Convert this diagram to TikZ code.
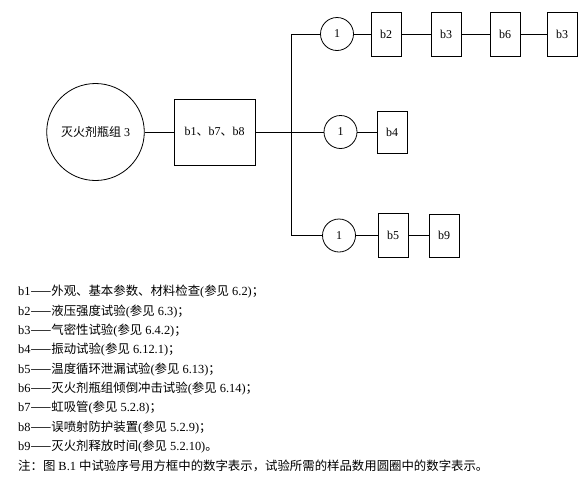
\documentclass[tikz,border=0pt]{standalone}
\usepackage{fontspec}
\setmainfont{Liberation Serif}
\newfontfamily\zhfont{Noto Sans CJK SC}
\newcommand{\zh}[1]{{\zhfont #1}}
\usetikzlibrary{positioning, shapes.geometric}

\begin{document}
\begin{tikzpicture}[x=1pt,y=-1pt,on grid,node distance=59pt,
		font=\fontsize{12}{14}\selectfont,
		testbox/.style={draw,line width=0.9pt,minimum width=30pt,minimum height=44pt,inner sep=0pt},
		sample/.style={circle,draw,line width=0.8pt,minimum size=33pt,inner sep=0pt},
		link/.style={line width=0.6pt},
		legend/.style={anchor=west,inner sep=0pt,font=\fontsize{12.4}{14}\selectfont}]
		
		\useasboundingbox (0,0) rectangle (583,477);
		
		\node (group) [ellipse,draw,line width=0.8pt,minimum width=93pt,minimum height=97pt,inner sep=0pt] at (95.5,132) {\zh{灭火剂瓶组} 3};
		\node (common) [draw,line width=0.9pt,minimum width=81pt,minimum height=66pt] at (214.5,132) {b1\zh{、}b7\zh{、}b8};
		
		% three branches
		\coordinate (trunkTop) at (291,34);
		\coordinate (trunkBot) at (291,235.5);
		\node (s1) [sample] at (337,34) {1};
		\node (s2) [sample] at (340.5,132) {1};
		\node (s3) [sample] at (339,235.5) {1};
		
		\node (t2) [testbox, right=49pt of s1] {b2};
		\node (t3) [testbox, right=60pt of t2] {b3};
		\node (t6) [testbox, right=59pt of t3] {b6};
		\node (t3b) [testbox, right=57pt of t6] {b3};
		\node (t4) [testbox, minimum height=42pt, right=51.5pt of s2] {b4};
		\node (t5) [testbox, right=54pt of s3] {b5};
		\node (t9) [testbox, minimum height=43pt, right=51pt of t5] {b9};
		
		\draw [link] (group) -- (common);
		\draw [link] (common) -- (s2);
		\draw [link] (s1) -- (trunkTop) -- (trunkBot) -- (s3);
		\draw [link] (s1) -- (t2) -- (t3) -- (t6) -- (t3b);
		\draw [link] (s2) -- (t4);
		\draw [link] (s3) -- (t5) -- (t9);
		
		% legend
		\foreach \k/\t/\r/\e [count=\i] in {b1/外观、基本参数、材料检查/6.2/；,
			b2/液压强度试验/6.3/；,
			b3/气密性试验/6.4.2/；,
			b4/振动试验/6.12.1/；,
			b5/温度循环泄漏试验/6.13/；,
			b6/灭火剂瓶组倾倒冲击试验/6.14/；,
			b7/虹吸管/5.2.8/；,
			b8/误喷射防护装置/5.2.9/；,
			b9/灭火剂释放时间/5.2.10/。}
		\node (key\i) [legend] at (18,{292+19.3*(\i-1)}) {\k\zh{——\t}(\zh{参见} \r)\zh{\e}};
		
		\node (note) [legend] at (18,466) {\zh{注：图} B.1 \zh{中试验序号用方框中的数字表示，试验所需的样品数用圆圈中的数字表示。}};
	\end{tikzpicture}
\end{document}
